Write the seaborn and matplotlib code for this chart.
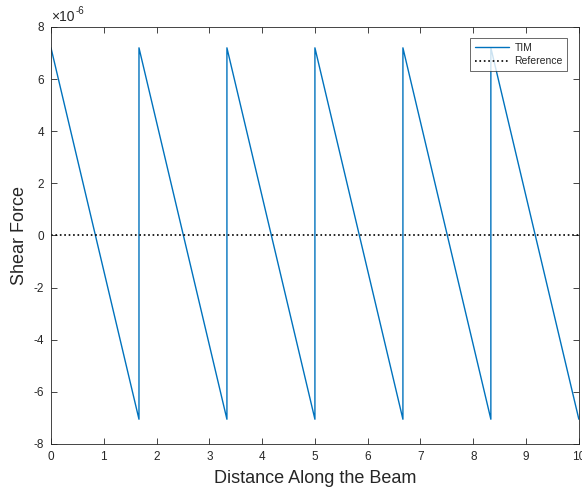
import matplotlib
matplotlib.use('Agg')
import matplotlib.pyplot as plt
import matplotlib.ticker as mticker
import pandas as pd
import seaborn as sns

# sawtooth shear force along the beam
distance = [0, 1.667, 1.667, 3.333, 3.333, 5.0, 5.0, 6.667, 6.667, 8.333, 8.333, 10.0]
shear = [7.2e-6, -7.05e-6, 7.2e-6, -7.05e-6, 7.2e-6, -7.05e-6,
         7.2e-6, -7.05e-6, 7.2e-6, -7.05e-6, 7.2e-6, -7.05e-6]
ref_x = [0, 10]
ref_y = [0, 0]

df = pd.DataFrame({'x': distance, 'y': shear})
df_ref = pd.DataFrame({'x': ref_x, 'y': ref_y})

sns.set_style('ticks')
plt.rcParams['font.family'] = ['Liberation Sans', 'DejaVu Sans']
plt.rcParams['axes.unicode_minus'] = False

fig = plt.figure(figsize=(5.82, 4.87), dpi=100)
ax = fig.add_axes([0.0876, 0.0883, 0.907, 0.8563])

sns.lineplot(data=df, x='x', y='y', sort=False, estimator=None,
             color='#0072BD', linewidth=1.0, label='TIM', ax=ax)
sns.lineplot(data=df_ref, x='x', y='y', sort=False, estimator=None,
             color='black', linewidth=1.2, linestyle=':', label='Reference', ax=ax)

ax.set_xlim(0, 10)
ax.set_ylim(-8e-6, 8e-6)
ax.set_xticks(range(0, 11))
ax.set_yticks([i * 1e-6 for i in range(-8, 9, 2)])
ax.yaxis.set_major_formatter(mticker.FuncFormatter(lambda v, p: '%d' % round(v * 1e6)))
# exponent label, MATLAB style
ax.text(0.0, 1.006, '\u00d710', transform=ax.transAxes,
        fontsize=10, ha='left', va='bottom', color='#262626')
ax.text(0.047, 1.026, '-6', transform=ax.transAxes,
        fontsize=7, ha='left', va='bottom', color='#262626')

ax.tick_params(direction='in', top=True, right=True, labelsize=8.5,
               length=4, width=0.6, colors='#262626', pad=5)
for s in ax.spines.values():
    s.set_visible(True)
    s.set_linewidth(0.6)
    s.set_color('#262626')

ax.set_xlabel('Distance Along the Beam', fontsize=13, labelpad=5)
ax.set_ylabel('Shear Force', fontsize=13, labelpad=4)

leg = ax.legend(loc='upper right', fontsize=7.5, frameon=True, fancybox=False,
                edgecolor='#262626', borderaxespad=1.1, handlelength=3.3,
                handletextpad=0.5, borderpad=0.45, labelspacing=0.3)
leg.get_frame().set_linewidth(0.6)

fig.savefig('out.png', dpi=100)
